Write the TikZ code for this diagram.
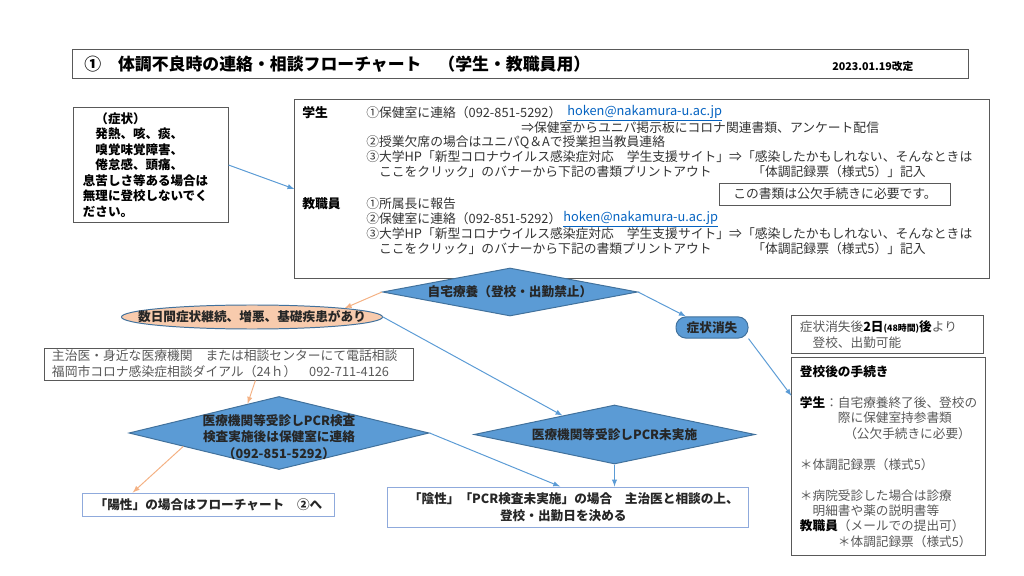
\documentclass[tikz,border=0pt]{standalone}
\usepackage{fontspec}
\setmainfont{Noto Sans CJK JP}
\usepackage{xcolor}
\usetikzlibrary{shapes.geometric}

\definecolor{diablue}{HTML}{5B9BD5}
\definecolor{diaedge}{HTML}{41719C}
\definecolor{peach}{HTML}{F8CBAD}
\definecolor{lineorange}{HTML}{F4B183}
\definecolor{linkblue}{HTML}{0563C1}
\definecolor{boxgray}{HTML}{595959}
\definecolor{boxblue}{HTML}{8FAADC}
\definecolor{textgray}{HTML}{333333}
\definecolor{softgray}{HTML}{595959}

\begin{document}
\begin{tikzpicture}[
    x=0.025cm, y=-0.025cm,
    box/.style={draw=boxgray, line width=0.7pt, inner sep=0pt},
    txt/.style={anchor=west, inner sep=0pt, text=textgray, font=\fontsize{9.1}{10.5}\selectfont},
    head/.style={txt, text=black, font=\bfseries\fontsize{9.1}{10.5}\selectfont},
    link/.style={txt, text=linkblue},
    dia/.style={diamond, draw=diaedge, fill=diablue, line width=0.7pt, inner sep=0pt},
    dtext/.style={align=center, text=black!85, font=\bfseries\fontsize{9}{11.7}\selectfont},
    arrow/.style={-latex, line width=0.7pt, draw=diablue},
    oarrow/.style={-latex, line width=0.7pt, draw=lineorange}
]
\useasboundingbox (0,0) rectangle (1024,576);

\node[box, minimum width=22.375cm, minimum height=0.7cm] (title) at (520.5,64) {};
\node[txt, text=black, font=\bfseries\fontsize{12}{14}\selectfont] (titletext) at (84,64)
    {①\hspace{1em}体調不良時の連絡・相談フローチャート\hspace{1em}（学生・教職員用）};
\node[txt, text=black, font=\bfseries\fontsize{7.6}{9}\selectfont] (date) at (832,66) {2023.01.19改定};

\node[box, minimum width=3.85cm, minimum height=2.85cm, text width=3.4cm, align=left,
      text=black, font=\bfseries\fontsize{8.9}{11}\selectfont] (sym) at (151,165)
    {\hspace*{1em}（症状）\\
     \hspace*{1em}発熱、咳、痰、\\
     \hspace*{1em}嗅覚味覚障害、\\
     \hspace*{1em}倦怠感、頭痛、\\
     息苦しさ等ある場合は\\
     無理に登校しないでく\\
     ださい。};

\node[box, minimum width=17.35cm, minimum height=4.45cm] (info) at (642,189) {};
\node[head] (stu) at (302,113) {学生};
\node[txt] (s1) at (366,113) {①保健室に連絡（092-851-5292）};
\node[link] (s1m) at (567,113) {\underline{hoken@nakamura-u.ac.jp}};
\node[txt] (s2) at (521,128) {⇒保健室からユニパ掲示板にコロナ関連書類、アンケート配信};
\node[txt] (s3) at (366,142) {②授業欠席の場合はユニパQ＆Aで授業担当教員連絡};
\node[txt] (s4) at (366,157) {③大学HP「新型コロナウイルス感染症対応　学生支援サイト」⇒「感染したかもしれない、そんなときは};
\node[txt] (s5) at (366,172) {　ここをクリック」のバナーから下記の書類プリントアウト};
\node[txt] (s5b) at (752,172) {「体調記録票（様式5）」記入};
\node[box, minimum width=5.75cm, minimum height=0.55cm, text=textgray,
      font=\fontsize{9.1}{10.5}\selectfont] (note) at (835,194) {この書類は公欠手続きに必要です。};
\node[head] (fac) at (302,204) {教職員};
\node[txt] (f1) at (366,204) {①所属長に報告};
\node[txt] (f2) at (366,219) {②保健室に連絡（092-851-5292）};
\node[link] (f2m) at (563,219) {\underline{hoken@nakamura-u.ac.jp}};
\node[txt] (f3) at (366,234) {③大学HP「新型コロナウイルス感染症対応　学生支援サイト」⇒「感染したかもしれない、そんなときは};
\node[txt] (f4) at (366,249) {　ここをクリック」のバナーから下記の書類プリントアウト};
\node[txt] (f4b) at (752,249) {「体調記録票（様式5）」記入};

\node[dia, minimum width=6.375cm, minimum height=1.2cm,
      label={[dtext]center:自宅療養（登校・出勤禁止）}] (home) at (510,292) {};
\node[ellipse, draw=diaedge, fill=peach, line width=0.7pt, inner sep=0pt,
      minimum width=6.525cm, minimum height=0.6cm,
      label={[dtext]center:数日間症状継続、増悪、基礎疾患があり}] (sev) at (252,317) {};
\node[draw=diaedge, fill=diablue, line width=0.7pt, rounded corners=0.25cm, inner sep=0pt,
      minimum width=1.8cm, minimum height=0.53cm, text=black!85,
      font=\bfseries\fontsize{9}{11}\selectfont] (gone) at (712,327.5) {症状消失};

\node[box, minimum width=9.2cm, minimum height=0.8cm, inner xsep=0.175cm, text width=8.85cm,
      align=left, text=softgray, font=\fontsize{9.1}{11.4}\selectfont] (consult) at (229,364)
    {主治医・身近な医療機関　または相談センターにて電話相談\\
     福岡市コロナ感染症相談ダイアル（24ｈ）　092-711-4126};

\node[dia, minimum width=7.5cm, minimum height=1.825cm,
      label={[dtext, yshift=-0.1cm]center:医療機関等受診しPCR検査\\検査実施後は保健室に連絡\\（092-851-5292）}] (pcr) at (279,433) {};
\node[dia, minimum width=7.025cm, minimum height=1.475cm,
      label={[dtext]center:医療機関等受診しPCR未実施}] (noexam) at (614.5,434.5) {};

\node[box, draw=boxblue, minimum width=6.275cm, minimum height=0.575cm, text=black!85,
      font=\bfseries\fontsize{9}{11}\selectfont] (pos) at (208.5,504.5)
    {「陽性」の場合はフローチャート　②へ};
\node[box, draw=boxblue, minimum width=9cm, minimum height=1cm, inner xsep=0.525cm,
      text width=7.95cm, align=left, text=black!85, font=\bfseries\fontsize{9}{11.7}\selectfont] (neg) at (568,507)
    {「陰性」「PCR検査未実施」の場合　主治医と相談の上、\\
     \hspace*{7.2em}登校・出勤日を決める};

\node[box, minimum width=4.775cm, minimum height=0.95cm, inner xsep=0.2cm, text width=4.375cm,
      align=left, text=softgray, font=\fontsize{9}{11.4}\selectfont] (ok) at (887.5,334.5)
    {症状消失後\textbf{\textcolor{black}{2日}}{\fontsize{6.3}{8}\selectfont\bfseries\textcolor{black}{(48時間)}}\textbf{\textcolor{black}{後}}より\\
     　登校、出勤可能};
\node[box, minimum width=4.825cm, minimum height=4.925cm, inner xsep=0.2cm, text width=4.425cm,
      align=left, text=softgray, font=\fontsize{9}{11}\selectfont] (after) at (888.5,456.5)
    {\textbf{\textcolor{black}{登校後の手続き}}\\[11pt]
     \textbf{\textcolor{black}{学生}}：自宅療養終了後、登校の\\
     \hspace*{3em}際に保健室持参書類\\
     \hspace*{3.5em}（公欠手続きに必要）\\[11pt]
     ＊体調記録票（様式5）\\[11pt]
     ＊病院受診した場合は診療\\
     \hspace*{1em}明細書や薬の説明書等\\
     \textbf{\textcolor{black}{教職員}}（メールでの提出可）\\
     \hspace*{3em}＊体調記録票（様式5）};

\draw[arrow] (sym.east) -- (info.west);
\draw[oarrow] (home.west) -- (sev.north east);
\draw[arrow] (home.east) -- (gone.157);
\draw[arrow] (gone.south east) -- (after.148);
\draw[arrow] (sev.east) -- (noexam.160);
\draw[oarrow] (consult.-32.6) -- (pcr.137);
\draw[oarrow] (pcr.188) -- (pos.171.5);
\draw[arrow] (pcr.east) -- (neg.111);
\draw[arrow] (noexam.south) -- (noexam.south |- neg.north);
\end{tikzpicture}
\end{document}
